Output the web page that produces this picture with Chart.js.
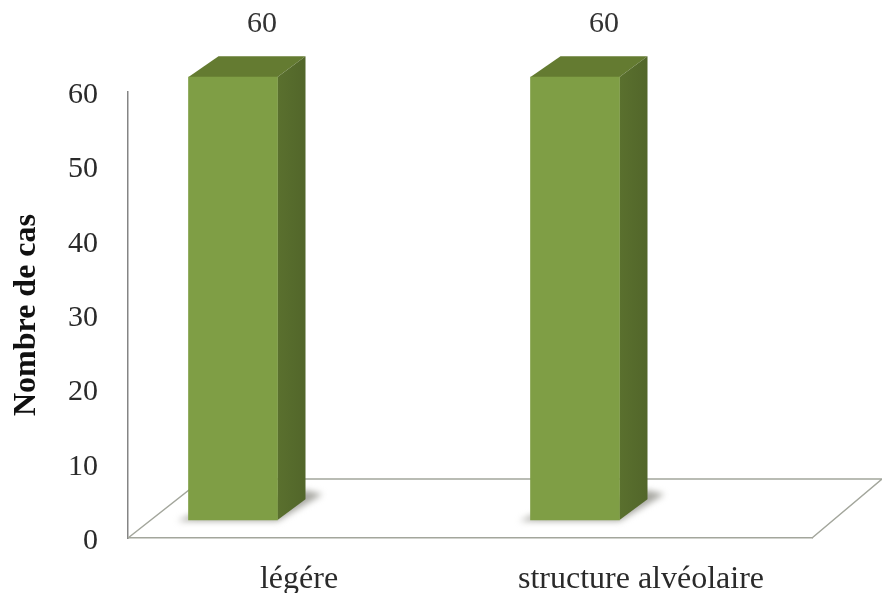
<!DOCTYPE html>
<html>
<head>
<meta charset="utf-8">
<style>
  html, body { margin: 0; padding: 0; background: #fff; }
  #wrap { width: 882px; height: 593px; }
  canvas { display: block; }
</style>
<script src="https://cdn.jsdelivr.net/npm/chart.js@4/dist/chart.umd.min.js"></script>
</head>
<body>
<div id="wrap"><canvas id="graf" width="882" height="593"></canvas></div>
<script>
var categories = ["légére", "structure alvéolaire"];
var cases = [60, 60];
var yTicks = [0, 10, 20, 30, 40, 50, 60];

var serif = "'Liberation Serif', serif";
var barShiftX = -66, barShiftY = -18, barScaleY = 0.993;
var depthX = 28, depthY = -21;

function poly(ctx, pts, fill) {
    ctx.beginPath();
    ctx.moveTo(pts[0][0], pts[0][1]);
    for (var i = 1; i < pts.length; i++) ctx.lineTo(pts[i][0], pts[i][1]);
    ctx.closePath();
    ctx.fillStyle = fill;
    ctx.fill();
}

// floor of the 3D box, shadows and the side/top faces of each bar
var box3d = {
    id: "box3d",
    beforeDatasetsDraw: function (chart) {
        var ctx = chart.ctx, a = chart.chartArea;
        var backY = a.bottom - 59;
        ctx.save();
        ctx.strokeStyle = "#a3a69c";
        ctx.lineWidth = 1.5;
        ctx.beginPath();
        ctx.moveTo(a.left, a.bottom);
        ctx.lineTo(a.left + 75, backY);
        ctx.lineTo(a.right + 70, backY);
        ctx.lineTo(a.right, a.bottom);
        ctx.stroke();
        ctx.restore();

        ctx.save();
        ctx.translate(barShiftX, a.bottom * (1 - barScaleY) + barShiftY);
        ctx.scale(1, barScaleY);
        chart.getDatasetMeta(0).data.forEach(function (bar) {
            var l = bar.x - bar.width / 2, r = bar.x + bar.width / 2;
            var t = bar.y, b = bar.base;
            ctx.save();
            ctx.filter = "blur(3px)";
            poly(ctx, [[l - 11, b + 1], [r, b + 1], [r + depthX + 17, b + depthY - 5], [r + depthX, b + depthY - 9], [l, b - 4]], "#a8a8a2");
            ctx.restore();
            poly(ctx, [[l, t], [l + 30, t + depthY], [r + depthX, t + depthY], [r, t]], "#647b31");
            var side = ctx.createLinearGradient(r, 0, r + depthX, 0);
            side.addColorStop(0, "#5a702e");
            side.addColorStop(1, "#52662a");
            poly(ctx, [[r, t], [r + depthX, t + depthY], [r + depthX, b + depthY], [r, b]], side);
        });
    },
    afterDatasetsDraw: function (chart) {
        var ctx = chart.ctx;
        ctx.restore();
        // value above each bar
        ctx.save();
        ctx.font = "30px " + serif;
        ctx.fillStyle = "#333";
        ctx.textAlign = "center";
        ctx.textBaseline = "middle";
        chart.getDatasetMeta(0).data.forEach(function (bar, i) {
            ctx.fillText(cases[i], bar.x + barShiftX + 29, bar.y - 68);
        });
        ctx.restore();
    }
};

new Chart(document.getElementById("graf"), {
    type: "bar",
    data: {
        labels: categories,
        datasets: [{
            data: cases,
            barThickness: 89,
            clip: false,
            backgroundColor: function (c) {
                var bar = c.chart.getDatasetMeta(0).data[c.dataIndex];
                if (!bar || bar.x === undefined) return "#7f9e45";
                var g = c.chart.ctx.createLinearGradient(bar.x - 44.5, 0, bar.x + 44.5, 0);
                g.addColorStop(0, "#74933d");
                g.addColorStop(0.06, "#7d9c44");
                g.addColorStop(0.6, "#819f48");
                g.addColorStop(1, "#7c9a43");
                return g;
            }
        }]
    },
    options: {
        responsive: false,
        animation: false,
        layout: { padding: { top: 92, right: 70, left: 0, bottom: 0 } },
        plugins: { legend: { display: false }, tooltip: { enabled: false } },
        scales: {
            x: {
                grid: { display: false, drawTicks: false },
                border: { display: true, color: "#a3a69c", width: 1.5 },
                ticks: { color: "#2a2a2a", font: { family: serif, size: 32 }, padding: 22, maxRotation: 0 },
                afterFit: function (s) { s.height = 55; }
            },
            y: {
                min: 0,
                max: 60,
                afterBuildTicks: function (s) { s.ticks = yTicks.map(function (v) { return { value: v }; }); },
                grid: { display: false, drawTicks: false },
                border: { display: true, color: "#858585", width: 1.5 },
                ticks: { color: "#2a2a2a", font: { family: serif, size: 30 }, padding: 30, labelOffset: 3 },
                title: {
                    display: true,
                    text: "Nombre de cas",
                    color: "#111",
                    font: { family: serif, size: 32, weight: "bold" },
                    padding: { top: 8, bottom: 0 }
                },
                afterFit: function (s) { s.width = 128; }
            }
        }
    },
    plugins: [box3d]
});
</script>
</body>
</html>
